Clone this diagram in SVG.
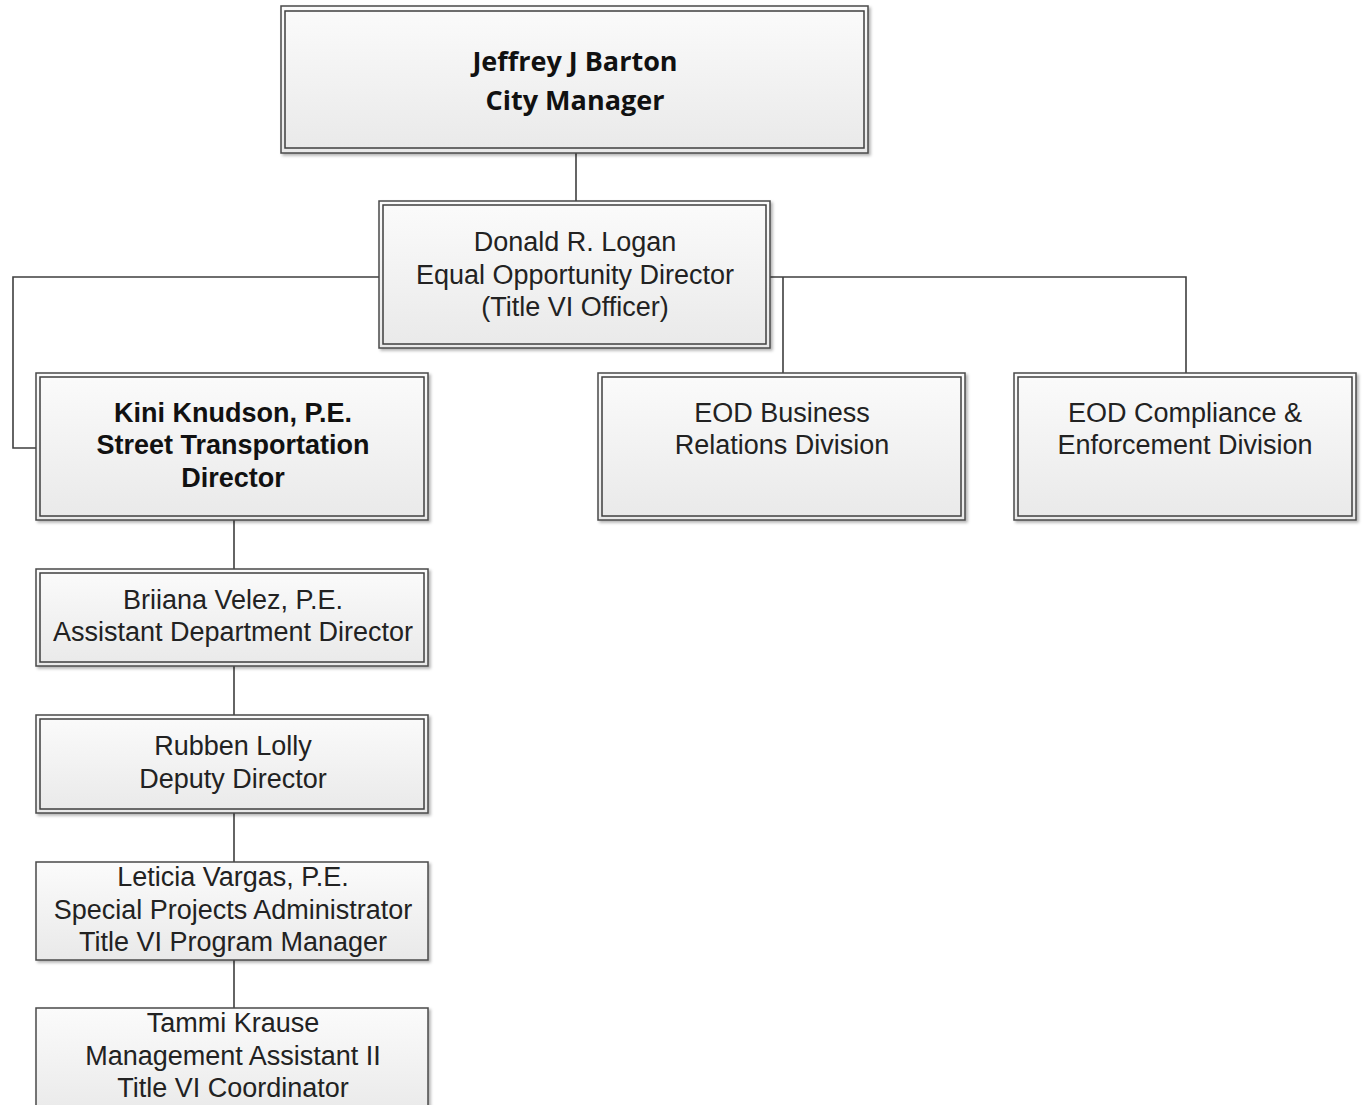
<svg xmlns="http://www.w3.org/2000/svg" width="1363" height="1105" viewBox="0 0 1363 1105">
<defs>
<linearGradient id="g" x1="0" y1="0" x2="0" y2="1">
<stop offset="0" stop-color="#fbfbfb"/>
<stop offset="1" stop-color="#e9e9e9"/>
</linearGradient>
<filter id="sh" x="-5%" y="-5%" width="110%" height="115%">
<feDropShadow dx="2" dy="2" stdDeviation="1.5" flood-color="#000" flood-opacity="0.3"/>
</filter>
<style>
.o{fill:url(#g);stroke:#4a4a4a;stroke-width:1.5;filter:url(#sh)}
.i{fill:none;stroke:#3f3f3f;stroke-width:1.5}
.t{font-family:"Liberation Sans",Arial,sans-serif;font-size:27px;fill:#222;text-anchor:middle}
.b{font-weight:bold;fill:#111}
.c{font-family:"Open Sans","Liberation Sans",sans-serif;font-weight:bold;font-size:27px;fill:#111;text-anchor:middle}
.ln{fill:none;stroke:#3f3f3f;stroke-width:1.6}
</style>
</defs>
<rect width="1363" height="1105" fill="#fff"/>
<g id="connectors">
<path class="ln" d="M576 153V201"/>
<path class="ln" d="M379 277H13V448H37"/>
<path class="ln" d="M770 277H1186V373M783 277V373"/>
<path class="ln" d="M234 520V569M234 666V715M234 813V862M234 960V1008"/>
</g>
<g id="n-barton">
<rect class="o" x="281" y="6" width="587" height="147"/>
<rect class="i" x="285" y="11" width="579" height="137"/>
<text class="c" x="575" y="71">Jeffrey J Barton</text>
<text class="c" x="575" y="110">City Manager</text>
</g>
<g id="n-logan">
<rect class="o" x="379" y="201" width="391" height="147"/>
<rect class="i" x="383" y="205" width="383" height="139"/>
<text class="t" x="575" y="251">Donald R. Logan</text>
<text class="t" x="575" y="284">Equal Opportunity Director</text>
<text class="t" x="575" y="316">(Title VI Officer)</text>
</g>
<g id="n-knudson">
<rect class="o" x="36" y="373" width="392" height="147"/>
<rect class="i" x="40" y="377" width="384" height="139"/>
<text class="t b" x="233" y="422">Kini Knudson, P.E.</text>
<text class="t b" x="233" y="454">Street Transportation</text>
<text class="t b" x="233" y="487">Director</text>
</g>
<g id="n-business">
<rect class="o" x="598" y="373" width="367" height="147"/>
<rect class="i" x="602" y="377" width="359" height="139"/>
<text class="t" x="782" y="422">EOD Business</text>
<text class="t" x="782" y="454">Relations Division</text>
</g>
<g id="n-compliance">
<rect class="o" x="1014" y="373" width="342" height="147"/>
<rect class="i" x="1018" y="377" width="334" height="139"/>
<text class="t" x="1185" y="422">EOD Compliance &amp;</text>
<text class="t" x="1185" y="454">Enforcement Division</text>
</g>
<g id="n-velez">
<rect class="o" x="36" y="569" width="392" height="97"/>
<rect class="i" x="40" y="573" width="384" height="89"/>
<text class="t" x="233" y="609">Briiana Velez, P.E.</text>
<text class="t" x="233" y="641">Assistant Department Director</text>
</g>
<g id="n-lolly">
<rect class="o" x="36" y="715" width="392" height="98"/>
<rect class="i" x="40" y="719" width="384" height="90"/>
<text class="t" x="233" y="755">Rubben Lolly</text>
<text class="t" x="233" y="788">Deputy Director</text>
</g>
<g id="n-vargas">
<rect class="o" x="36" y="862" width="392" height="98"/>
<text class="t" x="233" y="886">Leticia Vargas, P.E.</text>
<text class="t" x="233" y="919">Special Projects Administrator</text>
<text class="t" x="233" y="951">Title VI Program Manager</text>
</g>
<g id="n-krause">
<rect class="o" x="36" y="1008" width="392" height="110"/>
<text class="t" x="233" y="1032">Tammi Krause</text>
<text class="t" x="233" y="1065">Management Assistant II</text>
<text class="t" x="233" y="1097">Title VI Coordinator</text>
</g>
</svg>
